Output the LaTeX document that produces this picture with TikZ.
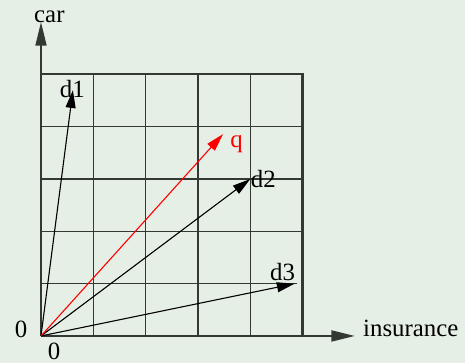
\documentclass[tikz,border=0pt]{standalone}
\usepackage{fontspec}
\setmainfont{Liberation Serif}
\usetikzlibrary{arrows.meta,positioning,calc}
\definecolor{vsBack}{HTML}{E6EFE6}
\definecolor{vsInk}{HTML}{333833}
\definecolor{vsQuery}{HTML}{FF0000}
\tikzset{
  vs/frame/.style={draw=vsInk, line width=1.1pt},
  vs/grid/.style={draw=vsInk, line width=0.75pt},
  vs/axis/.style={-{Triangle[length=4.5mm,width=2.1mm]}, draw=vsInk,
    line width=1.1pt},
  vs/doc/.style={-{Triangle[length=3.4mm,width=1.9mm]}, draw=black,
    line width=0.6pt},
  vs/query/.style={vs/doc, draw=vsQuery},
  vs/label/.style={font=\fontsize{13.5}{15}\selectfont, inner sep=0pt},
}

\begin{document}
\begin{tikzpicture}[x=1cm, y=1cm]
\path[fill=vsBack, use as bounding box] (-0.784,-0.516) rectangle (8.107,6.424);
\coordinate (O) at (0,0);
\coordinate (ytip) at (0,6);
\coordinate (xtip) at (6,0);
\coordinate (d1tip) at (0.61,4.70);
\coordinate (qtip) at (3.48,3.86);
\coordinate (d2tip) at (4,3);
\coordinate (d3tip) at (4.85,1);
% term grid
\foreach \i in {1,...,4} \draw[vs/grid] (\i,0) -- (\i,5);
\foreach \j in {2,3,4} \draw[vs/grid] (0,\j) -- (5,\j);
\draw[vs/grid] (0,1) -- (4.89,1);
\draw[vs/frame] (0,5) -- (5,5) -- (5,0);
\draw[vs/axis] (O) -- (ytip);
\draw[vs/axis] (O) -- (xtip);
% documents and query
\draw[vs/doc] (O) -- (d1tip);
\draw[vs/doc] (O) -- (d2tip);
\draw[vs/doc] (O) -- (d3tip);
\draw[vs/query] (O) -- (qtip);
\node[vs/label] (car) at (0.16,6.10) {car};
\node[vs/label] (ins) at (7.07,0.15) {insurance};
\node[vs/label] (zeroy) at (-0.38,0.12) {0};
\node[vs/label] (zerox) at (0.25,-0.30) {0};
\node[vs/label] (d1) at (0.60,4.72) {d1};
\node[vs/label] (d2) at (4.25,3.01) {d2};
\node[vs/label] (d3) at (4.62,1.23) {d3};
\node[vs/label, text=vsQuery] (q) at (3.74,3.67) {q};
\end{tikzpicture}
\end{document}
